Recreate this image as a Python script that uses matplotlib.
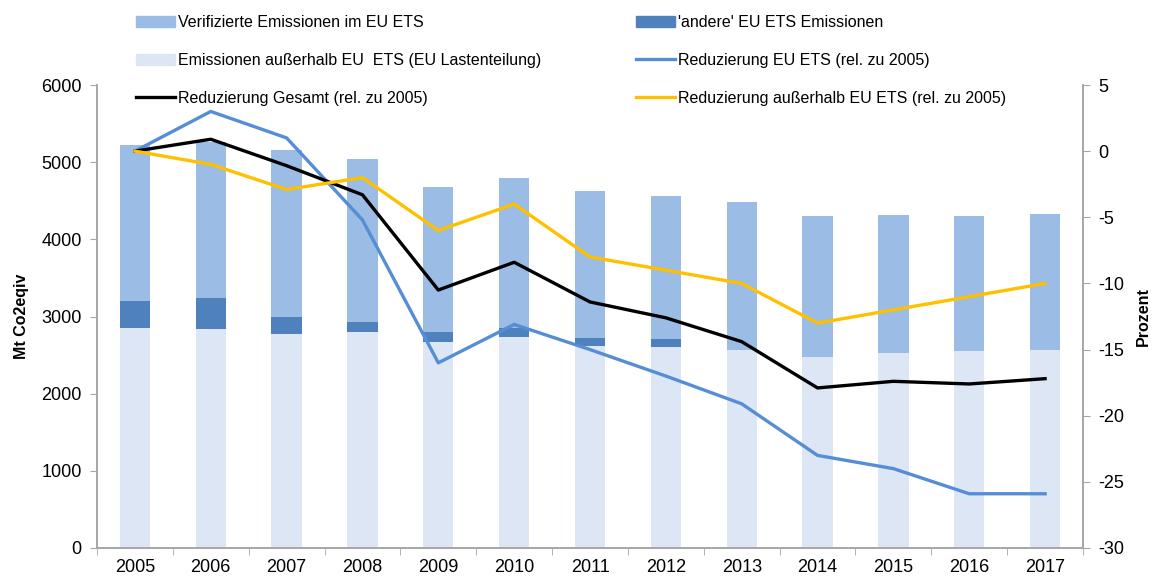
import matplotlib
matplotlib.use("Agg")
import matplotlib.pyplot as plt
import numpy as np
from matplotlib.patches import Patch
from matplotlib.lines import Line2D

years = ["2005", "2006", "2007", "2008", "2009", "2010", "2011", "2012",
         "2013", "2014", "2015", "2016", "2017"]
# Mt CO2eq
non_ets = [2851, 2838, 2769, 2799, 2670, 2734, 2618, 2600, 2572, 2471, 2522, 2552, 2570]
andere_ets = [354, 402, 224, 130, 129, 113, 99, 104, 0, 0, 0, 0, 0]
total = [5222, 5265, 5160, 5045, 4675, 4790, 4626, 4561, 4480, 4298, 4316, 4298, 4333]
verified_ets = [t - n - a for t, n, a in zip(total, non_ets, andere_ets)]
# percent change relative to 2005
red_ets = [0, 3.0, 1.0, -5.2, -16.0, -13.1, -15.0, -17.0, -19.1, -23.0, -24.0, -25.9, -25.9]
red_total = [0, 0.9, -1.1, -3.3, -10.5, -8.4, -11.4, -12.6, -14.4, -17.9, -17.4, -17.6, -17.2]
red_non_ets = [0, -1.0, -2.9, -2.0, -6.0, -4.0, -8.0, -9.0, -10.0, -13.0, -12.0, -11.0, -10.0]

c_ver = "#9BBCE4"
c_and = "#4F81BD"
c_non = "#DCE6F4"
c_lets = "#558ED5"
c_ly = "#FFC000"
c_lk = "#000000"
c_spine = "#A6A6A6"

plt.rcParams['font.family'] = ['Liberation Sans', 'DejaVu Sans']
plt.rcParams['axes.unicode_minus'] = False

fig = plt.figure(figsize=(11.55, 5.8), dpi=100)
ax = fig.add_axes([97/1155, 32/580, (1083-97)/1155, (548-85)/580])
ax2 = ax.twinx()

x = np.arange(len(years))
w = 0.40
ax.bar(x, non_ets, w, color=c_non, zorder=2)
ax.bar(x, andere_ets, w, bottom=non_ets, color=c_and, zorder=2)
bot2 = [n + a for n, a in zip(non_ets, andere_ets)]
ax.bar(x, verified_ets, w, bottom=bot2, color=c_ver, zorder=2)

ax.set_ylim(0, 6000)
ax.set_xlim(-0.5, len(years) - 0.5)
ax.set_yticks(np.arange(0, 6001, 1000))
ax.set_xticks(x)
ax.set_xticklabels(years)
ax.set_xticks(np.arange(-0.5, len(years)), minor=True)
ax.tick_params(axis='x', which='major', length=0, labelsize=13, pad=8, colors='#000000')
ax.tick_params(axis='x', which='minor', length=5, color=c_spine, direction='out')
ax.tick_params(axis='y', length=5, color=c_spine, labelsize=13, pad=6)
ax.set_ylabel("Mt Co2eqiv", fontsize=11.5, fontweight='bold', labelpad=9)

ax2.plot(x, red_ets, color=c_lets, lw=2.4, zorder=3)
ax2.plot(x, red_total, color=c_lk, lw=2.4, zorder=3)
ax2.plot(x, red_non_ets, color=c_ly, lw=2.4, zorder=3)
ax2.set_ylim(-30, 5)
ax2.set_yticks(np.arange(-30, 6, 5))
ax2.tick_params(axis='y', length=5, color=c_spine, labelsize=13, pad=6)
ax2.set_ylabel("Prozent", fontsize=11.5, fontweight='bold', rotation=90, labelpad=8)

for a in (ax, ax2):
    a.spines['top'].set_visible(False)
    for s in ('left', 'right', 'bottom'):
        a.spines[s].set_color(c_spine)
        a.spines[s].set_linewidth(1.2)

handles = [
    Patch(color=c_ver, label="Verifizierte Emissionen im EU ETS"),
    Patch(color=c_non, label="Emissionen außerhalb EU  ETS (EU Lastenteilung)"),
    Line2D([], [], color=c_lk, lw=2.4, label="Reduzierung Gesamt (rel. zu 2005)"),
]
handles2 = [
    Patch(color=c_and, label="'andere' EU ETS Emissionen"),
    Line2D([], [], color=c_lets, lw=2.4, label="Reduzierung EU ETS (rel. zu 2005)"),
    Line2D([], [], color=c_ly, lw=2.4, label="Reduzierung außerhalb EU ETS (rel. zu 2005)"),
]
legkw = dict(frameon=False, handlelength=2.4, handleheight=0.7, handletextpad=0.2,
             labelspacing=1.42, prop={'size': 11.5})
leg1 = fig.legend(handles=handles, loc='upper left', bbox_to_anchor=(122/1155, 1 - 1/580), **legkw)
leg2 = fig.legend(handles=handles2, loc='upper left', bbox_to_anchor=(622/1155, 1 - 1/580), **legkw)

fig.savefig("out.png", dpi=100)
